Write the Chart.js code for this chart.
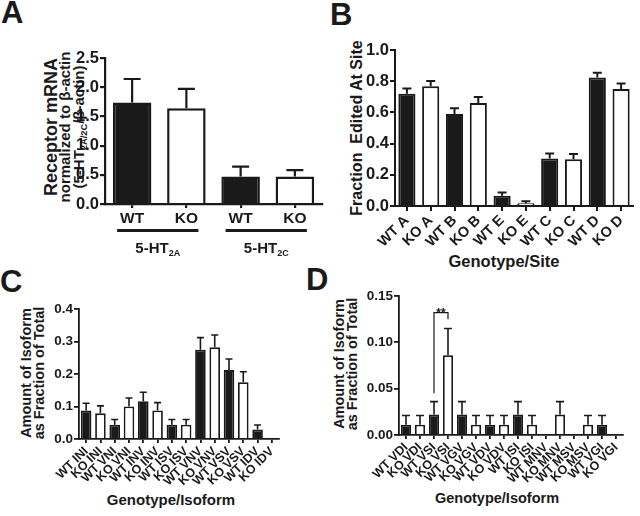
<!DOCTYPE html>
<html>
<head>
<meta charset="utf-8">
<script src="https://cdn.jsdelivr.net/npm/chart.js@4.4.1/dist/chart.umd.min.js"></script>
<style>
body{margin:0;background:#fff;width:640px;height:516px;position:relative;overflow:hidden;
  font-family:'Liberation Sans',Arial,Helvetica,sans-serif;font-weight:bold;color:#1a1a1a}
canvas{position:absolute}
.letter{position:absolute;font-size:31px;line-height:1}
.yt{position:absolute;transform:translate(-50%,-50%) rotate(-90deg);white-space:nowrap;text-align:center}
.xt{position:absolute;transform:translate(-50%,-50%);white-space:nowrap}
sub{font-size:62%;vertical-align:-3px;line-height:0}
</style>
</head>
<body>
<div class="letter" style="left:1px;top:-3px">A</div>
<div class="letter" style="left:330px;top:-1px">B</div>
<div class="letter" style="left:0px;top:266px">C</div>
<div class="letter" style="left:306px;top:264px">D</div>

<div class="yt" style="left:64px;top:127px">
  <div style="font-size:18px;line-height:14px">Receptor mRNA</div>
  <div style="font-size:15px;line-height:13.5px">normalized to β-actin</div>
  <div style="font-size:15px;line-height:13.5px">(5-HT<sub>2A/2C</sub>/β-actin)</div>
</div>
<div class="yt" style="left:357px;top:128px;font-size:16px">Fraction&nbsp; Edited At Site</div>
<div class="yt" style="left:33px;top:373px;font-size:14.5px;line-height:13px">Amount of Isoform<br>as Fraction of Total</div>
<div class="yt" style="left:346px;top:364px;font-size:14.5px;line-height:13px">Amount of Isoform<br>as Fraction of Total</div>
<div class="xt" style="left:504px;top:261px;font-size:16.5px">Genotype/Site</div>
<div class="xt" style="left:171px;top:499px;font-size:15px">Genotype/Isoform</div>
<div class="xt" style="left:497px;top:498px;font-size:14.5px">Genotype/Isoform</div>

<canvas id="cA" width="334" height="222" style="left:0px;top:40px"></canvas>
<canvas id="cB" width="320" height="232" style="left:320px;top:30px"></canvas>
<canvas id="cC" width="290" height="226" style="left:0px;top:290px"></canvas>
<canvas id="cD" width="320" height="236" style="left:320px;top:280px"></canvas>

<script>
// panel A: receptor mRNA
const labelsA = ['WT', 'KO', 'WT', 'KO'];
const valuesA = [1.74, 1.64, 0.47, 0.47];
const errorsA = [0.40, 0.33, 0.17, 0.11];
const groupNamesA = ['5-HT', '5-HT'];
const groupSubsA = ['2A', '2C'];
const groupStartA = [0, 2];
const groupEndA = [1, 3];

// panel B: fraction edited per site
const labelsB = ['WT A', 'KO A', 'WT B', 'KO B', 'WT E', 'KO E', 'WT C', 'KO C', 'WT D', 'KO D'];
const valuesB = [0.72, 0.767, 0.589, 0.66, 0.066, 0.017, 0.304, 0.30, 0.824, 0.75];
const errorsB = [0.034, 0.034, 0.038, 0.038, 0.02, 0.013, 0.032, 0.034, 0.03, 0.036];

// panel C: major isoforms
const labelsC = ['WT INI', 'KO INI', 'WT VNI', 'KO VNI', 'WT INV', 'KO INV', 'WT ISV', 'KO ISV',
  'WT VNV', 'KO VNV', 'WT VSV', 'KO VSV', 'WT IDV', 'KO IDV'];
const valuesC = [0.0875, 0.079, 0.044, 0.100, 0.116, 0.0875, 0.044, 0.044, 0.275, 0.282, 0.212, 0.175, 0.029, 0];
const errorsC = [0.0225, 0.023, 0.016, 0.026, 0.028, 0.0245, 0.016, 0.016, 0.037, 0.038, 0.034, 0.032, 0.014, 0];

// panel D: minor isoforms
const labelsD = ['WT VDI', 'KO VDI', 'WT VSI', 'KO VSI', 'WT VGV', 'KO VGV', 'WT VDV', 'KO VDV',
  'WT ISI', 'KO ISI', 'WT MNV', 'KO MNV', 'WT MSV', 'KO MSV', 'WT VGI', 'KO VGI'];
const valuesD = [0.011, 0.011, 0.022, 0.086, 0.022, 0.011, 0.011, 0.011, 0.022, 0.011, 0, 0.022, 0, 0.011, 0.011, 0];
const errorsD = [0.010, 0.010, 0.014, 0.029, 0.014, 0.010, 0.010, 0.010, 0.014, 0.010, 0, 0.014, 0, 0.010, 0.010, 0];
const sigFromD = 2, sigToD = 3;          // WT VSI vs KO VSI
const sigLowD = 0.045, sigTopD = 0.132, sigRightLowD = 0.125;
const sigTextD = '**';

const FONT = "'Liberation Sans', Arial, Helvetica, sans-serif";
const INK = '#1a1a1a';

const errorBars = {
  id: 'errorBars',
  afterDatasetsDraw(chart, args, opts) {
    const ctx = chart.ctx, y = chart.scales.y;
    const vals = chart.data.datasets[0].data;
    ctx.save();
    ctx.strokeStyle = INK;
    ctx.lineWidth = opts.width;
    chart.getDatasetMeta(0).data.forEach((bar, i) => {
      const e = opts.errors[i];
      if (!e) return;
      const y0 = y.getPixelForValue(vals[i]), y1 = y.getPixelForValue(vals[i] + e);
      ctx.beginPath();
      ctx.moveTo(bar.x, y0); ctx.lineTo(bar.x, y1);
      ctx.moveTo(bar.x - opts.cap / 2, y1); ctx.lineTo(bar.x + opts.cap / 2, y1);
      ctx.stroke();
    });
    ctx.restore();
  }
};

// receptor group underlines + names under panel A
const groupLines = {
  id: 'groupLines',
  afterDraw(chart) {
    const ctx = chart.ctx, x = chart.scales.x, bottom = chart.chartArea.bottom;
    ctx.save();
    ctx.fillStyle = INK;
    ctx.textBaseline = 'alphabetic'; ctx.textAlign = 'left';
    for (let i = 0; i < groupNamesA.length; i++) {
      const x0 = x.getPixelForValue(groupStartA[i]) - 15;
      const x1 = x.getPixelForValue(groupEndA[i]) + 12;
      ctx.fillRect(x0, bottom + 25, x1 - x0, 3);
      ctx.font = 'bold 15px ' + FONT;
      const w1 = ctx.measureText(groupNamesA[i]).width;
      ctx.font = 'bold 9px ' + FONT;
      const w2 = ctx.measureText(groupSubsA[i]).width;
      const sx = (x0 + x1) / 2 - (w1 + w2) / 2;
      ctx.font = 'bold 15px ' + FONT;
      ctx.fillText(groupNamesA[i], sx, bottom + 49);
      ctx.font = 'bold 9px ' + FONT;
      ctx.fillText(groupSubsA[i], sx + w1, bottom + 52);
    }
    ctx.restore();
  }
};

const sigBracket = {
  id: 'sigBracket',
  afterDraw(chart) {
    const ctx = chart.ctx, x = chart.scales.x, y = chart.scales.y;
    const xa = x.getPixelForValue(sigFromD), xb = x.getPixelForValue(sigToD);
    const yt = y.getPixelForValue(sigTopD);
    ctx.save();
    ctx.strokeStyle = INK; ctx.lineWidth = 1.2;
    ctx.beginPath();
    ctx.moveTo(xa, y.getPixelForValue(sigLowD)); ctx.lineTo(xa, yt);
    ctx.lineTo(xb, yt); ctx.lineTo(xb, y.getPixelForValue(sigRightLowD));
    ctx.stroke();
    ctx.fillStyle = INK; ctx.font = 'bold 12px ' + FONT;
    ctx.textAlign = 'center'; ctx.textBaseline = 'alphabetic';
    ctx.fillText(sigTextD, (xa + xb) / 2, yt + 4);
    ctx.restore();
  }
};

function makeChart(id, o) {
  return new Chart(document.getElementById(id), {
    type: 'bar',
    data: {
      labels: o.labels,
      datasets: [{
        data: o.values,
        backgroundColor: o.labels.map(l => l.startsWith('WT') ? INK : '#ffffff'),
        borderColor: INK,
        borderWidth: ctx => o.values[ctx.dataIndex] === 0 ? 0 : o.border,
        barPercentage: o.barPct,
        categoryPercentage: 1
      }]
    },
    options: {
      responsive: false, animation: false, devicePixelRatio: 1,
      layout: { padding: o.pad },
      plugins: {
        legend: { display: false }, tooltip: { enabled: false },
        errorBars: { errors: o.errors, cap: o.cap, width: o.errW }
      },
      scales: {
        x: {
          afterFit: s => { s.height = o.xh; },
          grid: { offset: false, drawOnChartArea: false, tickLength: o.xTick, color: INK, lineWidth: o.axisW },
          border: { color: INK, width: o.axisW },
          ticks: { color: INK, font: { family: FONT, weight: 'bold', size: o.xFont }, padding: o.xPad,
            autoSkip: false, minRotation: o.rot, maxRotation: o.rot }
        },
        y: {
          min: 0, max: o.max,
          afterFit: s => { s.width = o.yw; },
          grid: { drawOnChartArea: false, tickLength: 5, color: INK, lineWidth: o.axisW },
          border: { color: INK, width: o.axisW },
          ticks: { stepSize: o.step, color: INK, font: { family: FONT, weight: 'bold', size: o.yFont },
            padding: 1, callback: v => v.toFixed(o.dec) }
        }
      }
    },
    plugins: [errorBars].concat(o.plugins || [])
  });
}

makeChart('cA', {
  labels: labelsA, values: valuesA, errors: errorsA,
  pad: { top: 18, right: 12, left: 0, bottom: 0 }, yw: 105, xh: 58,
  max: 2.5, step: 0.5, dec: 1, yFont: 16.5, xFont: 15.5, xPad: 1, xTick: 4, rot: 0,
  barPct: 0.71, border: 2.5, cap: 17, errW: 2.2, axisW: 2.2, plugins: [groupLines]
});

makeChart('cB', {
  labels: labelsB, values: valuesB, errors: errorsB,
  pad: { top: 20, right: 7, left: 0, bottom: 0 }, yw: 75, xh: 56,
  max: 1.0, step: 0.2, dec: 1, yFont: 16.5, xFont: 14.5, xPad: 1, xTick: 5, rot: 45,
  barPct: 0.72, border: 2, cap: 9, errW: 2, axisW: 2
});

makeChart('cC', {
  labels: labelsC, values: valuesC, errors: errorsC,
  pad: { top: 19, right: 11, left: 0, bottom: 0 }, yw: 79, xh: 77,
  max: 0.4, step: 0.1, dec: 1, yFont: 13.5, xFont: 12.5, xPad: 1, xTick: 4, rot: 45,
  barPct: 0.74, border: 1.8, cap: 7, errW: 1.6, axisW: 1.8
});

makeChart('cD', {
  labels: labelsD, values: valuesD, errors: errorsD,
  pad: { top: 16, right: 17, left: 0, bottom: 0 }, yw: 79, xh: 81,
  max: 0.15, step: 0.05, dec: 2, yFont: 13.5, xFont: 12.5, xPad: 1, xTick: 4, rot: 45,
  barPct: 0.72, border: 1.8, cap: 8, errW: 1.6, axisW: 1.8, plugins: [sigBracket]
});
</script>
</body>
</html>
